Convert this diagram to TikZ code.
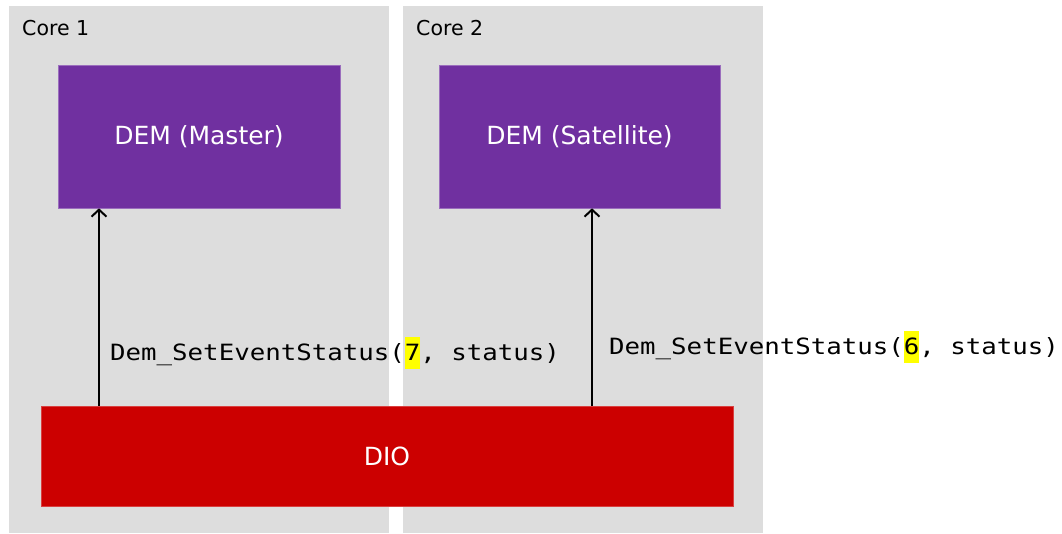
\documentclass[tikz,border=0pt]{standalone}
\usepackage{fontspec}
\setmainfont{DejaVu Sans}
\newfontfamily\codefont[FakeStretch=1.15]{DejaVu Sans Mono}
\usetikzlibrary{arrows.meta}
\definecolor{coregray}{HTML}{DDDDDD}
\definecolor{dempurple}{HTML}{7030A0}
\definecolor{diored}{HTML}{CC0000}
\definecolor{hlyellow}{HTML}{FFFF00}
\newcommand{\hlnum}[1]{{\setlength{\fboxsep}{0pt}\colorbox{hlyellow}{\rule[-9pt]{0pt}{32pt}#1}}}
\tikzset{
  corebox/.style={fill=coregray, draw=none, inner sep=0pt, minimum width=#1, minimum height=527pt},
  corelabel/.style={anchor=base west, inner sep=0pt, font=\fontsize{20.5}{24}\selectfont},
  dembox/.style={fill=dempurple, draw=dempurple!70!white, line width=0.6pt, text=white, inner sep=0pt,
    minimum width=#1, minimum height=143pt, font=\fontsize{25}{30}\selectfont},
  diobox/.style={fill=diored, draw=diored!75!white, line width=0.6pt, text=white, inner sep=0pt,
    minimum width=692pt, minimum height=100pt, font=\fontsize{25}{30}\selectfont},
  callarrow/.style={-{Straight Barb[length=7pt,width=15pt,line width=2pt]}, line width=2pt, black},
  calllabel/.style={anchor=base west, inner sep=0pt, font=\codefont\fontsize{22.4}{27}\selectfont}
}
\begin{document}
\begin{tikzpicture}[x=1pt,y=-1pt]
\useasboundingbox (0,0) rectangle (1062,533);
\node[corebox=380pt] (core1) at (199,269.5) {};
\node[corebox=360pt] (core2) at (583,269.5) {};
\node[corelabel] (core1lbl) at (22,35) {Core 1};
\node[corelabel] (core2lbl) at (416,35) {Core 2};
\node[dembox=282pt] (master) at (199,136.5) {DEM (Master)};
\node[dembox=281pt] (sat) at (579.5,136.5) {DEM (Satellite)};
\node[diobox] (dio) at (387,456) {DIO};
\coordinate (a1) at (99,0);
\coordinate (a2) at (592,0);
\draw[callarrow] (a1 |- dio.north) -- (a1 |- master.south);
\draw[callarrow] (a2 |- dio.north) -- (a2 |- sat.south);
\node[calllabel] (lbl1) at (110,360) {Dem\_SetEventStatus(\hlnum{7}, status)};
\node[calllabel] (lbl2) at (609,354) {Dem\_SetEventStatus(\hlnum{6}, status)};
\end{tikzpicture}
\end{document}
